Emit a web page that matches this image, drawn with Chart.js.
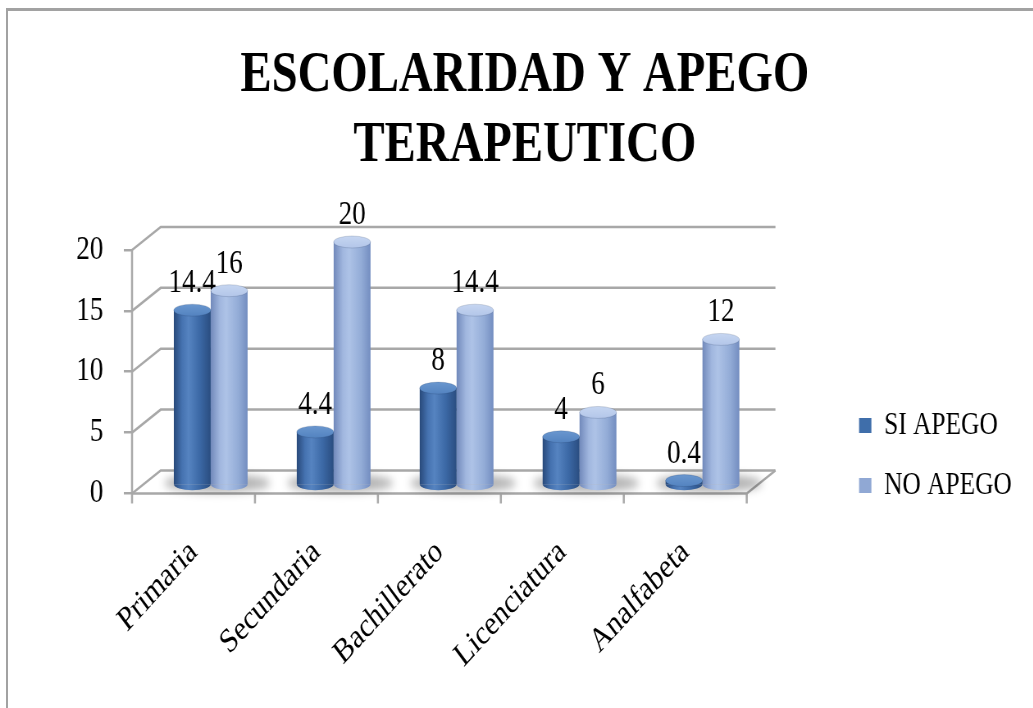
<!DOCTYPE html>
<html><head><meta charset="utf-8">
<script src="https://cdn.jsdelivr.net/npm/chart.js@4.4.1/dist/chart.umd.min.js"></script>
<style>
html,body{margin:0;padding:0;background:#fff;overflow:hidden;width:1033px;height:708px;}
#frame{position:absolute;left:6px;top:8px;width:1200px;height:900px;border-left:2px solid #a2a2a2;border-top:3px solid #a2a2a2;}
#wrap{position:absolute;left:0;top:0;width:1260px;height:708px;transform:scaleX(0.82);transform-origin:0 0;}
</style></head><body>
<div id="frame"></div>
<div id="wrap"><canvas id="c"></canvas></div>
<script>
const categories = ['Primaria', 'Secundaria', 'Bachillerato', 'Licenciatura', 'Analfabeta'];
const siApego = [14.4, 4.4, 8, 4, 0.4];
const noApego = [16, 20, 14.4, 6, 12];
const seriesNames = ['SI APEGO', 'NO APEGO'];
const yTicks = [0, 5, 10, 15, 20];
const titleLines = ['ESCOLARIDAD Y APEGO', 'TERAPEUTICO'];

const FONT = '"Liberation Serif", "Times New Roman", serif';
const DX = 35, DY = -23;   // depth offset of back wall
const BX = 21, BY = -8;    // bars sit mid-depth
const RY = 6;              // cylinder ellipse radius
const GRID = '#a8a8a8';

const gradStops = [
  [[0, '#28497a'], [0.22, '#4572b0'], [0.4, '#5684c1'], [0.7, '#3c69a6'], [1, '#2a4d80']],
  [[0, '#7189bb'], [0.25, '#a1b7df'], [0.42, '#aec3e7'], [0.75, '#93acd7'], [1, '#738dc0']]
];
const topColors = ['#5383c0', '#b3c6e9'];

const depthPlugin = {
  id: 'depth3d',
  beforeDatasetsDraw(chart) {
    const {ctx, chartArea, scales: {x, y}} = chart;
    const left = chartArea.left, right = chartArea.right;
    const y0 = y.getPixelForValue(0);
    ctx.save();
    ctx.strokeStyle = GRID; ctx.lineWidth = 2.5; ctx.lineJoin = 'miter';
    yTicks.forEach(v => {
      const py = y.getPixelForValue(v);
      ctx.beginPath(); ctx.moveTo(left, py); ctx.lineTo(left + DX, py + DY); ctx.lineTo(right + DX, py + DY); ctx.stroke();
    });
    ctx.beginPath(); ctx.moveTo(left, y0); ctx.lineTo(right, y0); ctx.lineTo(right + DX, y0 + DY); ctx.stroke();
    ctx.beginPath(); ctx.moveTo(left, y.getPixelForValue(yTicks[yTicks.length - 1])); ctx.lineTo(left, y0); ctx.stroke();
    const n = categories.length;
    for (let i = 0; i <= n; i++) {
      const px = left + (right - left) * i / n;
      ctx.beginPath(); ctx.moveTo(px, y0); ctx.lineTo(px, y0 + 10); ctx.stroke();
    }
    ctx.restore();

    ctx.save();
    ctx.translate(BX, BY);
    // floor shadows
    const m0 = chart.getDatasetMeta(0), m1 = chart.getDatasetMeta(1);
    ctx.save();
    ctx.filter = 'blur(5px)';
    ctx.fillStyle = 'rgba(0,0,0,0.30)';
    m0.data.forEach((e0, i) => {
      const e1 = m1.data[i];
      const l = e0.x - e0.width / 2, r = e1.x + e1.width / 2;
      ctx.beginPath();
      ctx.ellipse((l + r) / 2 + 8, e0.base - 1, (r - l) / 2 + 20, 9, 0, 0, Math.PI * 2);
      ctx.fill();
    });
    ctx.restore();
    // cylinder gradients
    [m0, m1].forEach((meta, di) => {
      meta.data.forEach(el => {
        const g = ctx.createLinearGradient(el.x - el.width / 2, 0, el.x + el.width / 2, 0);
        gradStops[di].forEach(s => g.addColorStop(s[0], s[1]));
        el.options = Object.assign({}, el.options, {backgroundColor: g});
      });
    });
  },
  afterDatasetsDraw(chart) {
    const {ctx} = chart;
    [0, 1].forEach(di => {
      const meta = chart.getDatasetMeta(di);
      const vals = chart.data.datasets[di].data;
      meta.data.forEach((el, i) => {
        const w = el.width / 2;
        ctx.fillStyle = el.options.backgroundColor;
        ctx.beginPath(); ctx.ellipse(el.x, el.base, w, RY, 0, 0, Math.PI); ctx.fill();
        const tg = ctx.createLinearGradient(0, el.y - RY, 0, el.y + RY);
        tg.addColorStop(0, di === 0 ? '#6a97cf' : '#c6d6f1');
        tg.addColorStop(1, topColors[di]);
        ctx.fillStyle = tg;
        ctx.beginPath(); ctx.ellipse(el.x, el.y, w, RY, 0, 0, Math.PI * 2); ctx.fill();
        ctx.strokeStyle = 'rgba(30,50,90,0.18)'; ctx.lineWidth = 1; ctx.stroke();
        ctx.fillStyle = '#000';
        ctx.font = '33px ' + FONT;
        ctx.textAlign = 'center'; ctx.textBaseline = 'alphabetic';
        ctx.fillText(String(vals[i]), el.x, el.y - RY - 12);
      });
    });
    ctx.restore();
  }
};

new Chart(document.getElementById('c'), {
  type: 'bar',
  data: {
    labels: categories,
    datasets: [
      {label: seriesNames[0], data: siApego, backgroundColor: '#3f6eaa', borderWidth: 0, clip: false,
       categoryPercentage: 0.6, barPercentage: 1.0},
      {label: seriesNames[1], data: noApego, backgroundColor: '#90a8d4', borderWidth: 0, clip: false,
       categoryPercentage: 0.6, barPercentage: 1.0}
    ]
  },
  options: {
    responsive: true, maintainAspectRatio: false, animation: false, events: [],
    layout: {padding: {left: 36, right: 16, top: 0, bottom: 0}},
    plugins: {
      tooltip: {enabled: false},
      title: {display: true, text: titleLines, color: '#000',
        font: {family: FONT, size: 57, weight: 'bold', lineHeight: 70 / 57},
        padding: {top: 41, bottom: 69}},
      legend: {position: 'right', align: 'end', fullSize: false, maxWidth: 260,
        labels: {boxWidth: 15, boxHeight: 15, padding: 29, color: '#000', font: {family: FONT, size: 31}}}
    },
    scales: {
      x: {
        grid: {display: false, drawTicks: false}, border: {display: false},
        ticks: {color: '#000', font: {family: FONT, size: 34}, minRotation: 42, maxRotation: 42, autoSkip: false, padding: 2},
        afterFit: s => { s.height = 178; }
      },
      y: {
        min: -3, max: 20,
        afterBuildTicks: s => { s.ticks = yTicks.map(v => ({value: v})); },
        grid: {drawOnChartArea: false, drawTicks: true, tickLength: 10, color: GRID, lineWidth: 2.5},
        border: {display: false},
        ticks: {color: '#000', font: {family: FONT, size: 33}, padding: 25},
        afterFit: s => { s.width = 125; }
      },
      y2: {
        position: 'right', display: true,
        grid: {display: false, drawTicks: false}, border: {display: false},
        ticks: {display: false},
        afterFit: s => { s.width = 108; }
      }
    }
  },
  plugins: [depthPlugin]
});
</script>
</body></html>
